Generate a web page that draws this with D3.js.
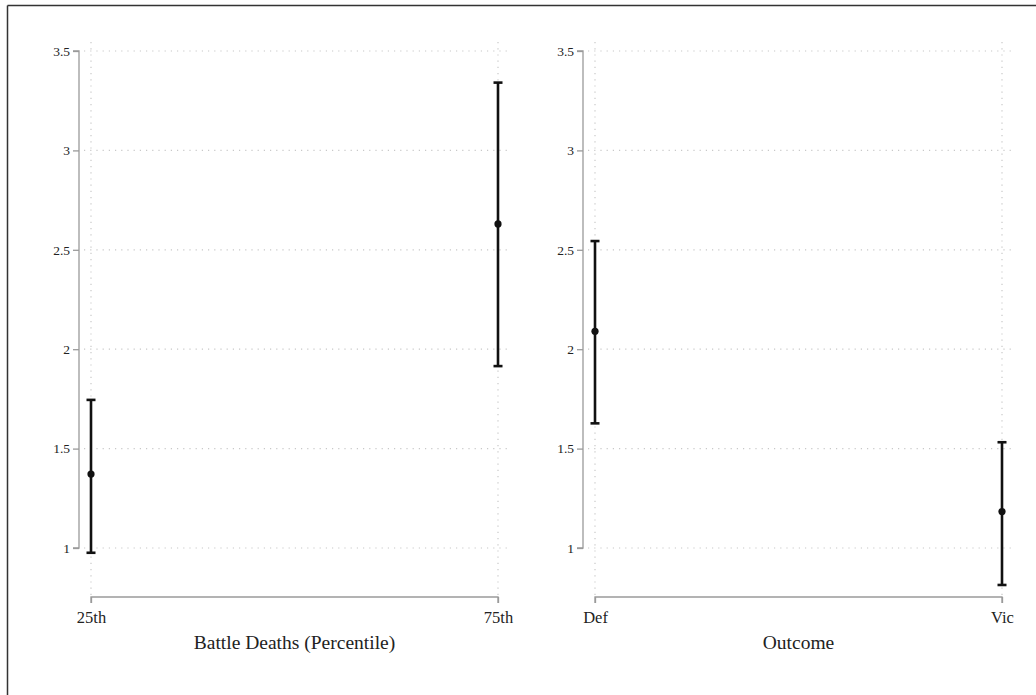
<!DOCTYPE html>
<html>
<head>
<meta charset="utf-8">
<script src="https://cdn.jsdelivr.net/npm/d3@7"></script>
<style>
  html, body { margin: 0; padding: 0; background: #fff; }
  svg { display: block; }
  text { font-family: "Liberation Serif", "DejaVu Serif", serif; fill: #222; }
</style>
</head>
<body>
<svg id="chart" width="1036" height="695"></svg>
<script>
// Panel 1: predicted value by battle deaths percentile
const deathCats = ["25th", "75th"];
const deathEst = [1.372, 2.630];
const deathLo = [0.976, 1.915];
const deathHi = [1.745, 3.341];

// Panel 2: predicted value by war outcome
const outcomeCats = ["Def", "Vic"];
const outcomeEst = [2.090, 1.183];
const outcomeLo = [1.627, 0.814];
const outcomeHi = [2.544, 1.532];

const yTicks = [1, 1.5, 2, 2.5, 3, 3.5];
const titles = ["Battle Deaths (Percentile)", "Outcome"];

const svg = d3.select("#chart");

// frame (top and left edges)
svg.append("line").attr("x1", 7.5).attr("x2", 1036).attr("y1", 5.5).attr("y2", 5.5)
  .attr("stroke", "#333").attr("stroke-width", 1.5);
svg.append("line").attr("x1", 7.5).attr("x2", 7.5).attr("y1", 5.5).attr("y2", 695)
  .attr("stroke", "#333").attr("stroke-width", 1.5);

const y = d3.scaleLinear().domain([1, 3.5]).range([548, 51]);

const panels = [
  { cats: deathCats, est: deathEst, lo: deathLo, hi: deathHi, title: titles[0],
    axisX: 79, x0: 91, x1: 498, gl: 84, gr: 507 },
  { cats: outcomeCats, est: outcomeEst, lo: outcomeLo, hi: outcomeHi, title: titles[1],
    axisX: 583, x0: 595, x1: 1002, gl: 588, gr: 1012 }
];

const gridColor = "#c8c8c8";
const axisColor = "#9a9a9a";
const baseY = 597;
const serif = "Liberation Serif, DejaVu Serif, serif";

panels.forEach(p => {
  const g = svg.append("g");
  const x = d3.scalePoint().domain(p.cats).range([p.x0, p.x1]);

  // horizontal dotted gridlines
  g.selectAll(".hgrid").data(yTicks).join("line")
    .attr("x1", p.gl).attr("x2", p.gr)
    .attr("y1", d => y(d)).attr("y2", d => y(d))
    .attr("stroke", gridColor).attr("stroke-width", 1.2)
    .attr("stroke-dasharray", "1.2,5");

  // vertical dotted gridlines at categories
  g.selectAll(".vgrid").data(p.cats).join("line")
    .attr("x1", d => x(d)).attr("x2", d => x(d))
    .attr("y1", 42).attr("y2", baseY)
    .attr("stroke", gridColor).attr("stroke-width", 1.2)
    .attr("stroke-dasharray", "1.2,5");

  // y axis
  const yAxis = d3.axisLeft(y).tickValues(yTicks).tickSize(6).tickPadding(3)
    .tickFormat(d => d3.format("")(d));
  const ya = g.append("g").attr("transform", `translate(${p.axisX},0)`).call(yAxis)
    .attr("font-family", serif).attr("font-size", 13.5);
  ya.select(".domain").attr("stroke", axisColor).attr("stroke-width", 1.3)
    .attr("d", `M-6,${y(3.5)}H0V${y(1)}H-6`);
  ya.selectAll(".tick line").attr("stroke", axisColor).attr("stroke-width", 1.3);
  ya.selectAll(".tick text").attr("fill", "#222");

  // x axis
  const xAxis = d3.axisBottom(x).tickSize(6).tickPadding(8);
  const xa = g.append("g").attr("transform", `translate(0,${baseY})`).call(xAxis)
    .attr("font-family", serif).attr("font-size", 16.5);
  xa.select(".domain").attr("stroke", axisColor).attr("stroke-width", 1.3)
    .attr("d", `M${p.x0},6V0H${p.x1}V6`);
  xa.selectAll(".tick line").attr("stroke", axisColor).attr("stroke-width", 1.3);
  xa.selectAll(".tick text").attr("fill", "#222");

  // axis title
  g.append("text").attr("x", (p.x0 + p.x1) / 2).attr("y", 649)
    .attr("text-anchor", "middle").attr("font-size", 19.5)
    .text(p.title);

  // confidence intervals
  const rows = p.cats.map((c, i) => ({ c, est: p.est[i], lo: p.lo[i], hi: p.hi[i] }));
  g.selectAll(".ci").data(rows).join("line")
    .attr("x1", d => x(d.c)).attr("x2", d => x(d.c))
    .attr("y1", d => y(d.lo)).attr("y2", d => y(d.hi))
    .attr("stroke", "#111").attr("stroke-width", 2.6);
  ["lo", "hi"].forEach(k => {
    g.selectAll(".cap-" + k).data(rows).join("line")
      .attr("x1", d => x(d.c) - 4.5).attr("x2", d => x(d.c) + 4.5)
      .attr("y1", d => y(d[k])).attr("y2", d => y(d[k]))
      .attr("stroke", "#111").attr("stroke-width", 2.6);
  });

  // point estimates
  g.selectAll(".pt").data(rows).join("circle")
    .attr("cx", d => x(d.c)).attr("cy", d => y(d.est)).attr("r", 3.6)
    .attr("fill", "#111");
});
</script>
</body>
</html>
